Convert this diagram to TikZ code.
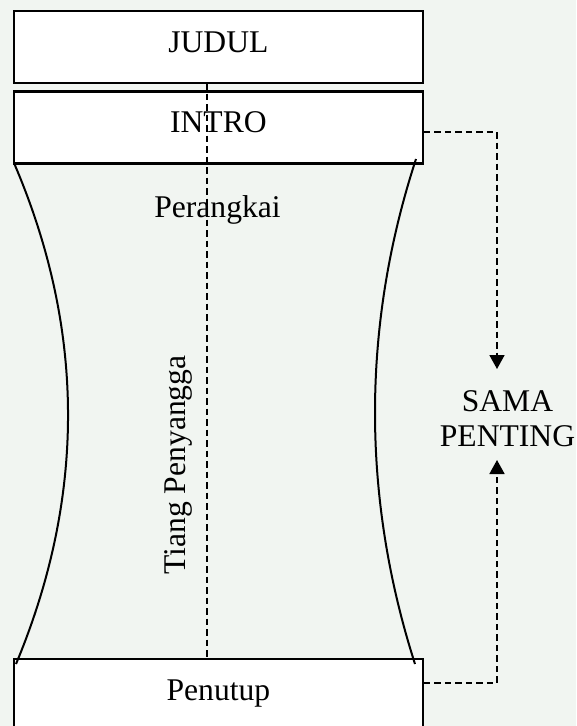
\documentclass[tikz,border=0pt]{standalone}
\usepackage{fontspec}
\setmainfont{Liberation Serif}
\usetikzlibrary{arrows.meta}
\definecolor{paper}{RGB}{241,245,241}
\newcommand\bigtext{\fontsize{31.6}{35}\selectfont}
\begin{document}
\begin{tikzpicture}[x=1pt,y=-1pt,
  part/.style={draw, line width=2.3pt, fill=white, minimum width=408.7pt,
    minimum height=72pt, text height=21pt, text depth=11pt, inner sep=0pt,
    font=\bigtext},
  word/.style={font=\bigtext, inner sep=0pt},
  waist/.style={line width=2pt},
  axis/.style={line width=1.6pt, dash pattern=on 6.5pt off 4pt},
  link/.style={line width=1.7pt, dash pattern=on 6.5pt off 4pt,
    -{Triangle[length=14pt,width=15pt]}}
]
% page
\path[use as bounding box, fill=paper] (0,0) rectangle (576,726);
\clip (0,0) rectangle (576,726);

% the three blocks
\node[part] (judul)   at (218.4,47)    {JUDUL};
\node[part] (intro)   at (218.4,127.5) {INTRO};
\node[part] (penutup) at (218.4,695)   {Penutup};

% curved sides of the body
\draw[waist] (14,163) .. controls (85.7,330) and (85.7,497) .. (16,664);
\draw[waist] (416,159) .. controls (361.5,326) and (361.5,497) .. (415,664);

% central supporting axis
\coordinate (axTop) at (206.7,83);
\coordinate (axBot) at (206.7,659);
\draw[axis] (axTop) -- (axBot);

% labels in the body
\node[word, anchor=base] (perangkai) at (217.5,217) {Perangkai};
\node[word, anchor=base, rotate=90] (tiang) at (185,465) {Tiang Penyangga};

% side note
\node[word, align=center] (sama) at (507.5,418.3) {SAMA\\PENTING};
\coordinate (tipA) at (497,369);
\coordinate (tipB) at (497,460);
\draw[link] ([yshift=-4.2pt]intro.east) -| (tipA);
\draw[link] ([yshift=12pt]penutup.east) -| (tipB);
\end{tikzpicture}
\end{document}
